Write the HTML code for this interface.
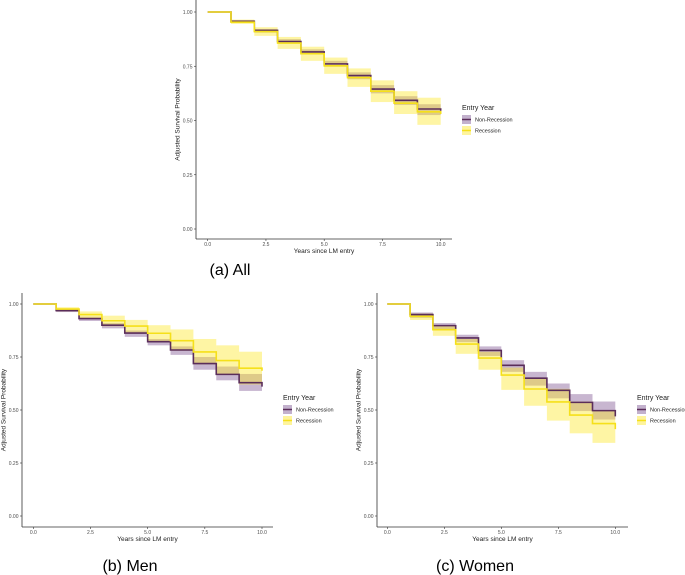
<!DOCTYPE html>
<html><head><meta charset="utf-8"><style>
body{margin:0;background:#fff;width:685px;height:575px;overflow:hidden;font-family:"Liberation Sans",sans-serif}
svg{position:absolute;left:0;top:0}
</style></head><body>
<svg id="svg" width="685" height="575"></svg>
<script>
const years = [0,1,2,3,4,5,6,7,8,9,10];
const yTicks = [0,0.25,0.5,0.75,1.0];
const yTickLabels = ["0.00","0.25","0.50","0.75","1.00"];
const xTicks = [0,2.5,5,7.5,10];
const xTickLabels = ["0.0","2.5","5.0","7.5","10.0"];
// All
const allNonRec = [1,0.957,0.915,0.864,0.816,0.761,0.707,0.645,0.593,0.553,0.545];
const allNonRecLo = [1,0.95,0.905,0.855,0.805,0.748,0.69,0.625,0.572,0.525];
const allNonRecHi = [1,0.962,0.922,0.875,0.828,0.775,0.722,0.663,0.612,0.575];
const allRec = [1,0.953,0.91,0.857,0.808,0.752,0.698,0.635,0.58,0.54,0.53];
const allRecLo = [1,0.945,0.89,0.83,0.775,0.715,0.655,0.585,0.53,0.48];
const allRecHi = [1,0.965,0.93,0.885,0.84,0.79,0.74,0.685,0.635,0.605];
// Men
const menNonRec = [1,0.969,0.931,0.9,0.863,0.822,0.783,0.719,0.668,0.629,0.61];
const menNonRecLo = [1,0.962,0.92,0.885,0.845,0.805,0.76,0.69,0.64,0.59];
const menNonRecHi = [1,0.975,0.94,0.91,0.875,0.835,0.8,0.75,0.705,0.67];
const menRec = [1,0.976,0.95,0.921,0.896,0.862,0.827,0.774,0.733,0.697,0.685];
const menRecLo = [1,0.965,0.93,0.895,0.865,0.825,0.78,0.715,0.665,0.62];
const menRecHi = [1,0.985,0.965,0.945,0.925,0.9,0.88,0.835,0.805,0.775];
// Women
const womenNonRec = [1,0.95,0.898,0.84,0.781,0.711,0.65,0.593,0.536,0.497,0.47];
const womenNonRecLo = [1,0.935,0.88,0.82,0.755,0.68,0.615,0.555,0.495,0.455];
const womenNonRecHi = [1,0.96,0.91,0.855,0.8,0.735,0.68,0.625,0.575,0.54];
const womenRec = [1,0.942,0.879,0.811,0.745,0.665,0.599,0.538,0.476,0.436,0.41];
const womenRecLo = [1,0.925,0.85,0.765,0.69,0.595,0.52,0.45,0.39,0.345];
const womenRecHi = [1,0.955,0.9,0.835,0.775,0.7,0.65,0.6,0.54,0.5];

const NS="http://www.w3.org/2000/svg";
const svg=document.getElementById('svg');
function mk(tag,attrs,parent){const e=document.createElementNS(NS,tag);for(const k in attrs)e.setAttribute(k,attrs[k]);(parent||svg).appendChild(e);return e;}

function panel(name,p,nr,nrLo,nrHi,r,rLo,rHi,caption){
  const g=mk('g',{});
  
  
  const sx=v=>p.x0+(p.x10-p.x0)*v/10;
  const sy=v=>p.y0+(p.y1-p.y0)*v;
  function bands(lo,hi,color,label){
    for(let i=1;i<lo.length;i++){
      const rc=mk('rect',{x:sx(years[i]),y:sy(hi[i]),width:sx(years[i+1])-sx(years[i]),height:sy(lo[i])-sy(hi[i]),fill:color,'fill-opacity':0.42},g);
      
      
    }
  }
  function line(v,color,label){
    let d='M'+sx(0)+','+sy(v[0]);
    for(let i=1;i<=10;i++){d+=' H'+sx(years[i])+' V'+sy(v[i]);}
    const pth=mk('path',{d:d,fill:'none',stroke:color,'stroke-width':1.6},g);
    
    
  }
  bands(nrLo,nrHi,'#7b5290','non-recession');
  bands(rLo,rHi,'#fde725','recession');
  line(nr,'#5a2d5a','non-recession');
  line(r,'#f5e01a','recession');
  const ya=mk('line',{x1:p.ax,y1:p.top,x2:p.ax,y2:p.bot,stroke:'#333','stroke-width':0.8},g);
  
  const xa=mk('line',{x1:p.ax,y1:p.bot,x2:p.right,y2:p.bot,stroke:'#333','stroke-width':0.8},g);
  
  yTicks.forEach((t,i)=>{
    mk('line',{x1:p.ax-2,x2:p.ax,y1:sy(t),y2:sy(t),stroke:'#333','stroke-width':0.6},g);
    const tx=mk('text',{x:p.ax-3.5,y:sy(t)+2,'font-size':5,'text-anchor':'end',fill:'#4d4d4d'},g);
    tx.textContent=yTickLabels[i];
    
  });
  xTicks.forEach((t,i)=>{
    mk('line',{x1:sx(t),x2:sx(t),y1:p.bot,y2:p.bot+2,stroke:'#333','stroke-width':0.6},g);
    const tx=mk('text',{x:sx(t),y:p.bot+7,'font-size':5,'text-anchor':'middle',fill:'#4d4d4d'},g);
    tx.textContent=xTickLabels[i];
    
  });
  const xt=mk('text',{x:(p.ax+p.right)/2,y:p.bot+14,'font-size':6.5,'text-anchor':'middle',fill:'#222'},g);
  xt.textContent='Years since LM entry';
  
  const cy=(p.top+p.bot)/2;
  const yx=p.ax-16.5;
  const yt=mk('text',{x:yx,y:cy,'font-size':6.5,'text-anchor':'middle',fill:'#222',transform:`rotate(-90 ${yx} ${cy})`},g);
  yt.textContent='Adjusted Survival Probability';
  
  const lt=mk('text',{x:p.lx,y:p.ly,'font-size':7,fill:'#222'},g);
  lt.textContent='Entry Year';
  
  [['Non-Recession','#7b5290','#5a2d5a'],['Recession','#fde725','#f5e01a']].forEach((e,i)=>{
    const yy=p.ly+5+i*11;
    const le=mk('g',{},g);
    
    mk('rect',{x:p.lx,y:yy,width:9,height:9,fill:e[1],'fill-opacity':0.45},le);
    mk('line',{x1:p.lx,x2:p.lx+9,y1:yy+4.5,y2:yy+4.5,stroke:e[2],'stroke-width':1.5},le);
    const t=mk('text',{x:p.lx+13,y:yy+6.5,'font-size':5.5,fill:'#222'},le);
    t.textContent=e[0];
  });
  const cp=mk('text',{x:p.cx,y:p.cy,'font-size':16,'text-anchor':'middle',fill:'#000'},g);
  cp.textContent=caption;
  
}
panel('all',{x0:207.7,x10:440.7,y0:229,y1:12,ax:196,top:0,bot:239,right:452,lx:462,ly:110,cx:230,cy:275},
  allNonRec,allNonRecLo,allNonRecHi,allRec,allRecLo,allRecHi,'(a) All');
panel('men',{x0:33.3,x10:262,y0:516,y1:304,ax:22,top:293,bot:527,right:273,lx:283,ly:400,cx:130,cy:571},
  menNonRec,menNonRecLo,menNonRecHi,menRec,menRecLo,menRecHi,'(b) Men');
panel('women',{x0:387.3,x10:615.3,y0:516,y1:304,ax:377,top:293,bot:527,right:628,lx:637,ly:400,cx:475,cy:571},
  womenNonRec,womenNonRecLo,womenNonRecHi,womenRec,womenRecLo,womenRecHi,'(c) Women');
</script>
</body></html>
